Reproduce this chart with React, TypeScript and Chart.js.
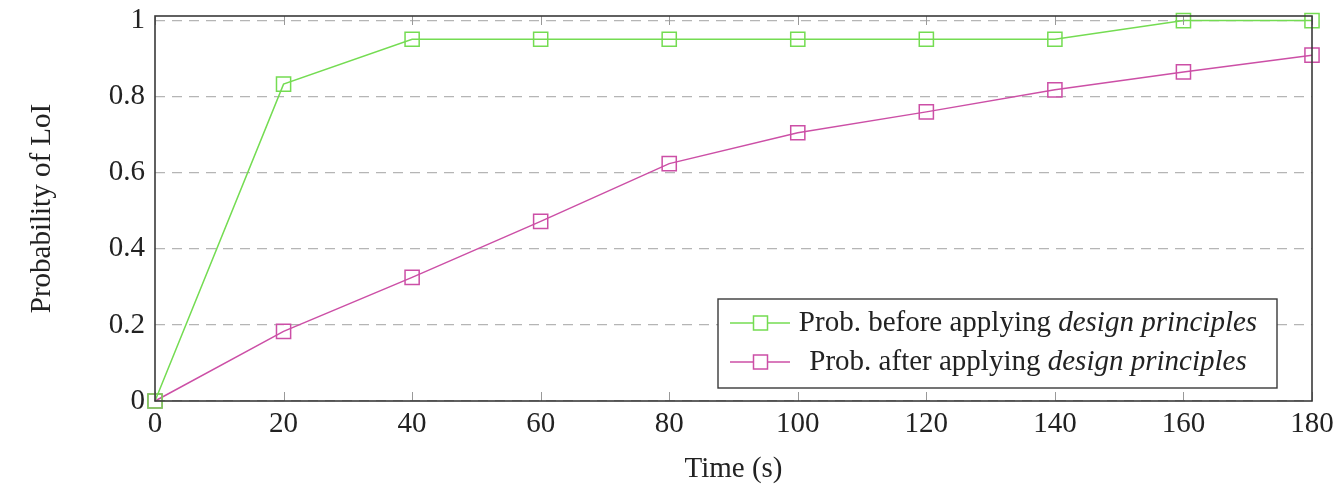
import React, { useEffect, useRef } from "react";
import { Chart, registerables } from "chart.js";

Chart.register(...registerables);

const timeSeconds = [0, 20, 40, 60, 80, 100, 120, 140, 160, 180];
const probBefore = [0, 0.833, 0.951, 0.951, 0.951, 0.951, 0.951, 0.951, 1.0, 1.0];
const probAfter = [0, 0.183, 0.325, 0.472, 0.624, 0.705, 0.76, 0.818, 0.865, 0.909];
const yTicks = [0, 0.2, 0.4, 0.6, 0.8, 1];
const xTicks = [0, 20, 40, 60, 80, 100, 120, 140, 160, 180];

const labelBefore = "Prob. before applying ";
const labelAfter = "Prob. after applying ";
const labelItalic = "design principles";

const GREEN = "#74dc52";
const PINK = "#cc4fa6";
const FONT = "'Liberation Serif', 'DejaVu Serif', serif";
const FS = 29;

export default function App() {
  const ref = useRef<HTMLCanvasElement>(null);

  useEffect(() => {
    document.body.style.margin = "0";
    const canvas = ref.current;
    if (!canvas) return;

    const frame = {
      id: "frame",
      afterDatasetsDraw(chart: any) {
        const { ctx, chartArea } = chart;
        const xs = chart.scales.x;
        ctx.save();
        ctx.strokeStyle = "#999";
        ctx.lineWidth = 1;
        xTicks.forEach((v) => {
          const px = Math.round(xs.getPixelForValue(v)) + 0.5;
          ctx.beginPath();
          ctx.moveTo(px, chartArea.bottom);
          ctx.lineTo(px, chartArea.bottom - 9);
          ctx.moveTo(px, chartArea.top);
          ctx.lineTo(px, chartArea.top + 9);
          ctx.stroke();
        });
        ctx.strokeStyle = "#3a3a3a";
        ctx.lineWidth = 1.6;
        ctx.strokeRect(
          chartArea.left,
          chartArea.top,
          chartArea.right - chartArea.left,
          chartArea.bottom - chartArea.top
        );
        ctx.restore();
      },
      afterDraw(chart: any) {
        const { ctx, chartArea } = chart;
        const right = chartArea.right - 35;
        const bottom = chartArea.bottom - 13;
        const left = right - 559;
        const top = bottom - 89;
        ctx.save();
        ctx.fillStyle = "#fff";
        ctx.fillRect(left, top, right - left, bottom - top);
        ctx.strokeStyle = "#3a3a3a";
        ctx.lineWidth = 1.4;
        ctx.strokeRect(left, top, right - left, bottom - top);
        const rows = [
          { color: GREEN, text: labelBefore, y: top + 24 },
          { color: PINK, text: labelAfter, y: top + 63 },
        ];
        const textCenter = left + 310;
        rows.forEach((r) => {
          ctx.strokeStyle = r.color;
          ctx.lineWidth = 1.5;
          ctx.beginPath();
          ctx.moveTo(left + 12, r.y);
          ctx.lineTo(left + 72, r.y);
          ctx.stroke();
          ctx.fillStyle = "#fff";
          ctx.fillRect(left + 35.5, r.y - 7, 14, 14);
          ctx.strokeRect(left + 35.5, r.y - 7, 14, 14);
          ctx.fillStyle = "#222";
          ctx.textBaseline = "middle";
          ctx.font = `${FS}px ${FONT}`;
          const w1 = ctx.measureText(r.text).width;
          ctx.font = `italic ${FS}px ${FONT}`;
          const w2 = ctx.measureText(labelItalic).width;
          const start = textCenter - (w1 + w2) / 2;
          ctx.font = `${FS}px ${FONT}`;
          ctx.textAlign = "left";
          ctx.fillText(r.text, start, r.y);
          ctx.font = `italic ${FS}px ${FONT}`;
          ctx.fillText(labelItalic, start + w1, r.y);
        });
        ctx.restore();
      },
    };

    const chart = new Chart(canvas, {
      type: "line",
      data: {
        datasets: [
          {
            label: labelBefore + labelItalic,
            data: timeSeconds.map((t, i) => ({ x: t, y: probBefore[i] })),
            borderColor: GREEN,
            backgroundColor: "rgba(255,255,255,0)",
            borderWidth: 1.5,
            pointStyle: "rect",
            pointRadius: 10,
            pointBorderWidth: 1.5,
            pointBorderColor: GREEN,
            pointBackgroundColor: "rgba(255,255,255,0)",
            tension: 0,
            clip: false as any,
          },
          {
            label: labelAfter + labelItalic,
            data: timeSeconds.map((t, i) => ({ x: t, y: probAfter[i] })),
            borderColor: PINK,
            backgroundColor: "rgba(255,255,255,0)",
            borderWidth: 1.5,
            pointStyle: "rect",
            pointRadius: 10,
            pointBorderWidth: 1.5,
            pointBorderColor: PINK,
            pointBackgroundColor: "rgba(255,255,255,0)",
            tension: 0,
            clip: false as any,
          },
        ],
      },
      options: {
        animation: false,
        responsive: false,
        layout: { autoPadding: false, padding: { left: 25, right: 28, top: 16, bottom: 2 } } as any,
        plugins: {
          legend: { display: false },
          tooltip: { enabled: false },
        },
        scales: {
          x: {
            type: "linear",
            min: 0,
            max: 180,
            afterBuildTicks: (s: any) => {
              s.ticks = xTicks.map((v) => ({ value: v }));
            },
            afterFit: (s: any) => {
              s.height = 86;
              s.paddingLeft = 0;
              s.paddingRight = 0;
            },
            grid: { display: false, drawTicks: false },
            border: { display: false },
            ticks: {
              color: "#222",
              padding: 6,
              maxRotation: 0,
              font: { family: FONT, size: FS },
              callback: (v: any) => String(v),
            },
            title: {
              display: true,
              text: "Time (s)",
              color: "#222",
              font: { family: FONT, size: FS },
              padding: { top: 0, bottom: 0 },
            },
          },
          y: {
            type: "linear",
            min: 0,
            max: 1.012,
            afterBuildTicks: (s: any) => {
              s.ticks = yTicks.map((v) => ({ value: v }));
            },
            afterFit: (s: any) => {
              s.width = 130;
              s.paddingTop = 0;
              s.paddingBottom = 0;
            },
            grid: {
              color: "#b5b5b5",
              lineWidth: 1.2,
              drawTicks: false,
            },
            border: { display: false, dash: [10, 7] },
            ticks: {
              color: "#222",
              padding: 10,
              font: { family: FONT, size: FS },
              callback: (v: any) => String(Math.round(Number(v) * 10) / 10),
            },
            title: {
              display: true,
              text: "Probability of LoI",
              color: "#222",
              font: { family: FONT, size: FS },
              padding: { top: 0, bottom: 0 },
            },
          },
        },
      },
      plugins: [frame],
    });

    return () => chart.destroy();
  }, []);

  return <canvas ref={ref} width={1340} height={489} style={{ display: "block" }} />;
}
